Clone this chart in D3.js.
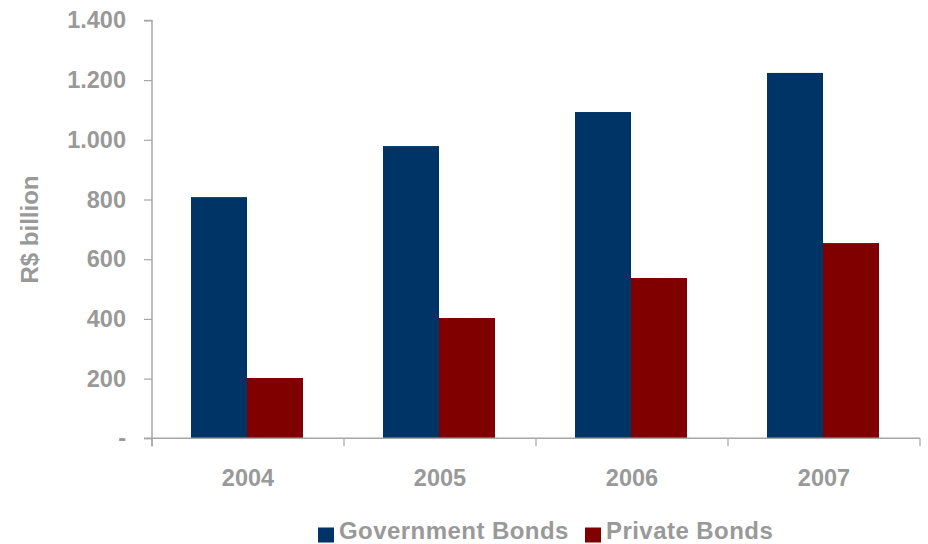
<!DOCTYPE html>
<html>
<head>
<meta charset="utf-8">
<script src="https://cdn.jsdelivr.net/npm/d3@7"></script>
<style>
  html, body { margin: 0; padding: 0; background: #fff; }
  svg { display: block; font-family: Arial, "Liberation Sans", sans-serif; font-weight: bold; }
</style>
</head>
<body>
<svg id="chart" width="928" height="544"></svg>
<script>
// Bond stock outstanding, R$ billion
const years = ["2004", "2005", "2006", "2007"];
const governmentBonds = [808, 979, 1093, 1224];
const privateBonds = [202, 403, 537, 654];
const seriesNames = ["Government Bonds", "Private Bonds"];
const seriesColors = ["#003366", "#800000"];
const yTicks = [0, 200, 400, 600, 800, 1000, 1200, 1400];

const svg = d3.select("#chart");
const margin = { left: 152, right: 8, top: 20.4, bottom: 105.7 };
const W = 928, H = 544;
const textColor = "#999999";
const axisColor = "#a6a6a6";

const x = d3.scaleBand().domain(years).range([margin.left, W - margin.right]).paddingInner(0).paddingOuter(0);
const y = d3.scaleLinear().domain([0, 1400]).range([H - margin.bottom, margin.top]);

const barW = 56;
const seriesData = [governmentBonds, privateBonds];

// bars
seriesData.forEach((vals, si) => {
  svg.append("g").selectAll("rect")
    .data(years.map((yr, i) => ({ yr, v: vals[i] })))
    .join("rect")
    .attr("x", d => x(d.yr) + x.bandwidth() / 2 - barW + si * barW - 1)
    .attr("y", d => y(d.v))
    .attr("width", barW)
    .attr("height", d => y(0) - y(d.v))
    .attr("fill", seriesColors[si]);
});

// y axis
const yAxis = d3.axisLeft(y)
  .tickValues(yTicks)
  .tickSize(8)
  .tickPadding(18)
  .tickFormat(d => d === 0 ? "-" : d3.format(",")(d).replace(/,/g, "."));
const gy = svg.append("g").attr("transform", `translate(${margin.left},0)`).call(yAxis);
gy.select(".domain").attr("stroke", axisColor).attr("stroke-width", 1.5)
  .attr("d", `M-8,${y(1400)}H0V${y(0) + 8}`);
gy.selectAll(".tick line").attr("stroke", axisColor).attr("stroke-width", 1.2);
gy.selectAll(".tick text").attr("fill", textColor).attr("font-size", 23.5)
  .attr("font-weight", "bold").attr("font-family", "Arial, 'Liberation Sans', sans-serif");

// x axis
const xAxis = d3.axisBottom(x).tickSize(0).tickPadding(0);
const gx = svg.append("g").attr("transform", `translate(0,${y(0)})`).call(xAxis);
gx.select(".domain").attr("stroke", axisColor).attr("stroke-width", 1.5)
  .attr("d", `M${margin.left - 8},0H${W - margin.right}`);
gx.selectAll(".tick text").attr("fill", textColor).attr("font-size", 23.5)
  .attr("font-weight", "bold").attr("font-family", "Arial, 'Liberation Sans', sans-serif")
  .attr("dy", null).attr("y", 47.5);
// boundary ticks between categories
const bounds = years.map(yr => x(yr)).concat([x(years[years.length - 1]) + x.bandwidth()]);
gx.append("g").selectAll("line").data(bounds).join("line")
  .attr("x1", d => d).attr("x2", d => d).attr("y1", 0).attr("y2", 8)
  .attr("stroke", axisColor).attr("stroke-width", 1.2);

// y axis title
svg.append("text")
  .attr("transform", `translate(38,${229.5}) rotate(-90)`)
  .attr("text-anchor", "middle")
  .attr("fill", textColor)
  .attr("font-size", 24)
  .text("R$ billion");

// legend
const legendItems = [
  { name: seriesNames[0], color: seriesColors[0], x: 318 },
  { name: seriesNames[1], color: seriesColors[1], x: 585 }
];
const lg = svg.append("g");
legendItems.forEach(item => {
  lg.append("rect").attr("x", item.x).attr("y", 527.5).attr("width", 16).attr("height", 15).attr("fill", item.color);
  lg.append("text").attr("x", item.x + 21).attr("y", 539)
    .attr("fill", textColor).attr("font-size", 24)
    .attr("letter-spacing", 0.45).text(item.name);
});
</script>
</body>
</html>
